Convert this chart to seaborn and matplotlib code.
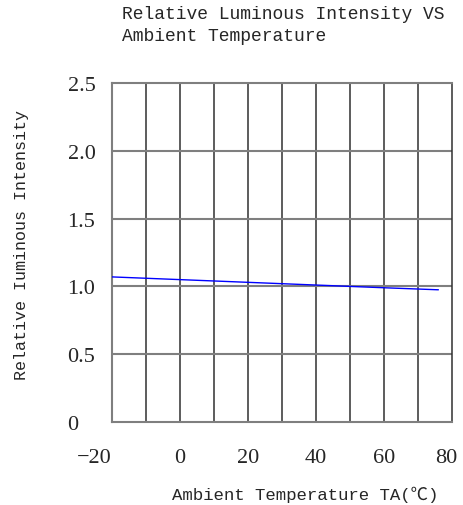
import matplotlib
matplotlib.use("Agg")
import matplotlib.pyplot as plt
import matplotlib.transforms as mtransforms
import numpy as np
import pandas as pd
import seaborn as sns

# ---- data ----
temperature = [-20, 0, 20, 40, 60, 76]
intensity = [1.07, 1.05, 1.03, 1.01, 0.99, 0.975]
x_ticks = [-20, 0, 20, 40, 60, 80]
x_tick_labels = ["\u221220", "0", "20", "40", "60", "80"]
y_ticks = [0, 0.5, 1.0, 1.5, 2.0, 2.5]
y_tick_labels = ["0", "0.5", "1.0", "1.5", "2.0", "2.5"]
title_text = "Relative Luminous Intensity VS\nAmbient Temperature"
x_label = "Ambient Temperature TA(\u2103)"
y_label = "Relative Iuminous Intensity"

df = pd.DataFrame({"temperature": temperature, "intensity": intensity})

sns.set_style("white")
mono = ["Liberation Mono", "DejaVu Sans Mono", "Noto Sans CJK SC"]
serif = ["Liberation Serif", "DejaVu Serif"]

W, H = 464, 506
fig = plt.figure(figsize=(W / 100, H / 100), dpi=100)
left, right, top, bottom = 112, 452, 84, 423
ax = fig.add_axes([left / W, 1 - bottom / H, (right - left) / W, (bottom - top) / H])

# grid
for xv in np.arange(-10, 80, 10):
    ax.axvline(xv, color="#303030", lw=1.1, zorder=1)
for yv in [0.5, 1.0, 1.5, 2.0]:
    ax.axhline(yv, color="#7f7f7f", lw=1.5, zorder=1)

sns.lineplot(data=df, x="temperature", y="intensity", color="#0000ff",
             lw=1.0, ax=ax, zorder=3)

ax.set_xlim(-20, 80)
ax.set_ylim(0, 2.5)
for s in ax.spines.values():
    s.set_color("#7f7f7f")
    s.set_linewidth(1.5)
ax.spines["right"].set_color("#303030")
ax.spines["right"].set_linewidth(1.1)

ax.set_xticks(x_ticks)
ax.set_xticklabels(x_tick_labels, fontfamily=serif, fontsize=16)
ax.set_yticks(y_ticks)
ax.set_yticklabels(y_tick_labels, fontfamily=serif, fontsize=16)
ax.tick_params(axis="both", length=0)
ax.tick_params(axis="x", pad=19)
ax.tick_params(axis="y", pad=32)
for lab in ax.get_yticklabels():
    lab.set_horizontalalignment("left")
xl = ax.get_xticklabels()
xl[0].set_horizontalalignment("right")
xl[-1].set_transform(xl[-1].get_transform() +
                     mtransforms.ScaledTranslation(-6 / 100, 0, fig.dpi_scale_trans))

ax.set_xlabel("")
ax.set_ylabel("")

fig.text(122 / W, 1 - 6 / H, title_text, ha="left", va="top",
         fontfamily=mono, fontsize=13, linespacing=1.4)
fig.text(172 / W, 1 - 495 / H, x_label, ha="left", va="center",
         fontfamily=mono, fontsize=12.5)
fig.text(22 / W, 1 - 245 / H, y_label, ha="center", va="center",
         rotation=90, fontfamily=mono, fontsize=12)

fig.savefig("out.png", dpi=100)
